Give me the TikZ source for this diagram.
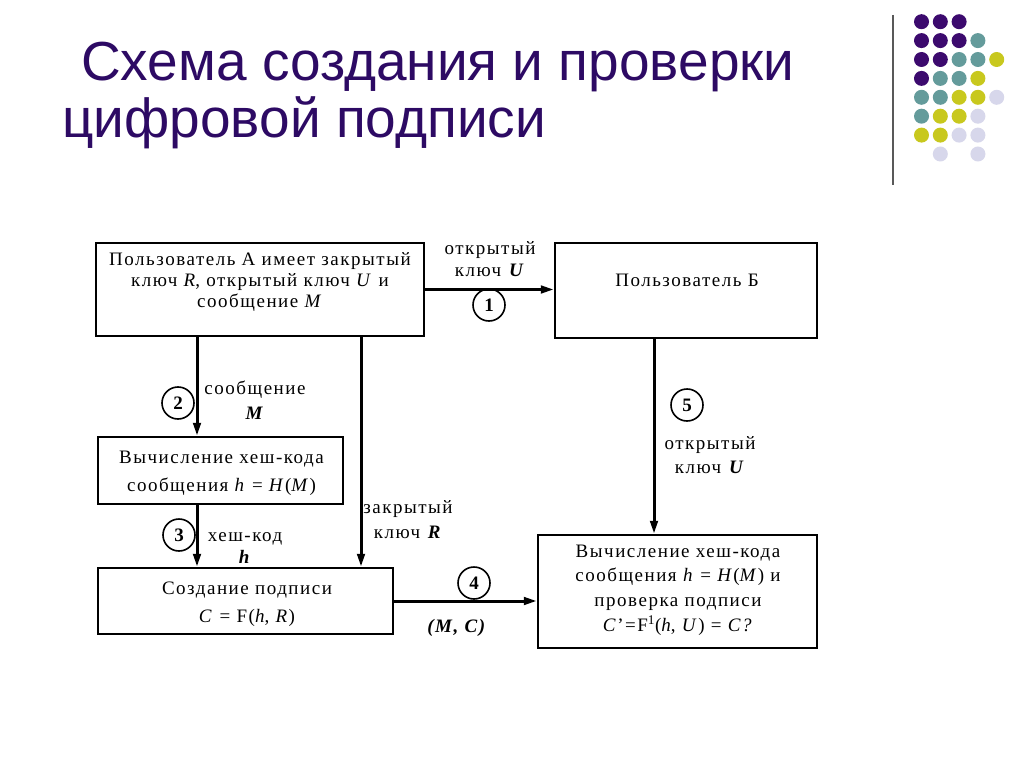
\documentclass[tikz,border=0pt]{standalone}
\usepackage{fontspec}
\setmainfont{Liberation Serif}
\newfontfamily\dfont{Liberation Serif}[LetterSpace=8]
\newfontfamily\tfont{Liberation Sans}
\usetikzlibrary{arrows.meta}
\definecolor{titlec}{RGB}{45,10,100}
\definecolor{dpurple}{RGB}{60,10,110}
\definecolor{dteal}{RGB}{100,155,155}
\definecolor{dyellow}{RGB}{200,200,30}
\definecolor{dlav}{RGB}{215,215,235}
\tikzset{
  box/.style={draw, line width=2.4pt, inner sep=0pt},
  btext/.style={align=center, inner sep=0pt, font=\dfont\fontsize{19}{21}\selectfont},
  lab/.style={align=center, inner sep=0pt, font=\dfont\fontsize{19}{22}\selectfont},
  num/.style={draw, circle, line width=1.6pt, minimum size=32pt, inner sep=0pt,
    font=\dfont\bfseries\fontsize{19}{21}\selectfont},
  arr/.style={line width=3pt, -{Triangle[length=13pt 0 0, width=7.5pt 0 0]}},
  dot/.style={circle, inner sep=0pt, minimum size=15pt},
  ttl/.style={anchor=base west, inner sep=0pt, text=titlec, font=\tfont\fontsize{55}{57}\selectfont},
}
\begin{document}
\begin{tikzpicture}[x=1pt,y=-1pt]
\useasboundingbox[fill=white] (0,0) rectangle (1024,767);
% title
\node[ttl] (t1) at (81,81) {Схема создания и проверки};
\node[ttl] (t2) at (62,138) {цифровой подписи};
% decoration
\draw[line width=2pt, black!65] (893,15) -- (893,185);
\foreach \c/\r/\col in {0/0/dpurple,1/0/dpurple,2/0/dpurple,
  0/1/dpurple,1/1/dpurple,2/1/dpurple,3/1/dteal,
  0/2/dpurple,1/2/dpurple,2/2/dteal,3/2/dteal,4/2/dyellow,
  0/3/dpurple,1/3/dteal,2/3/dteal,3/3/dyellow,
  0/4/dteal,1/4/dteal,2/4/dyellow,3/4/dyellow,4/4/dlav,
  0/5/dteal,1/5/dyellow,2/5/dyellow,3/5/dlav,
  0/6/dyellow,1/6/dyellow,2/6/dlav,3/6/dlav,
  1/7/dlav,3/7/dlav}
  \node[dot, fill=\col] (d\c\r) at ({921.5+18.8*\c},{21.7+18.9*\r}) {};
% boxes
\node[box, minimum width=328pt, minimum height=93pt] (A) at (260,289.5) {};
\node[box, minimum width=262pt, minimum height=95pt] (B) at (686,290.5) {};
\node[box, minimum width=245pt, minimum height=67pt] (H) at (220.5,470.5) {};
\node[box, minimum width=295pt, minimum height=66pt] (S) at (245.5,601) {};
\node[box, minimum width=279pt, minimum height=113pt] (V) at (677.5,591.5) {};
% box texts
\node[btext] (At) at (260,282)
  {Пользователь А имеет закрытый\\ключ \textit{R}, открытый ключ \textit{U} и\\сообщение \textit{M}};
\node[btext] (Bt) at (687,280) {Пользователь Б};
\node[btext, font=\dfont\fontsize{19}{28}\selectfont] (Ht) at (221.5,473)
  {Вычисление хеш-кода\\сообщения \textit{h} = \textit{H}(\textit{M})};
\node[btext, font=\dfont\fontsize{19}{28}\selectfont] (St) at (247,604)
  {Создание подписи\\\textit{C} = F(\textit{h}, \textit{R})};
\node[btext, font=\dfont\fontsize{19}{24.7}\selectfont] (Vt) at (678,590)
  {Вычисление хеш-кода\\сообщения \textit{h} = \textit{H}(\textit{M}) и\\проверка подписи\\\textit{C}’=F\textsuperscript{1}(\textit{h}, \textit{U}) = \textit{C?}};
% helper coordinates
\coordinate (c2) at (197,0);
\coordinate (cR) at (361,0);
\coordinate (c5) at (654,0);
% connectors
\draw[arr] (A.east) -- (A.east -| B.west);
\draw[arr] (c2 |- A.south) -- (c2 |- H.north);
\draw[arr] (c2 |- H.south) -- (c2 |- S.north);
\draw[arr] (cR |- A.south) -- (cR |- S.north);
\draw[arr] (S.east) -- (S.east -| V.west);
\draw[arr] (c5 |- B.south) -- (c5 |- V.north);
% labels
\node[lab] (l1) at (490,259) {открытый\\ключ \textbf{\textit{U}}};
\node[num] (n1) at (489,305) {1};
\node[lab, font=\dfont\fontsize{19}{25}\selectfont] (l2) at (255,400) {сообщение\\\textbf{\textit{M}}};
\node[num] (n2) at (178,403) {2};
\node[num] (n3) at (179,535) {3};
\node[lab] (l3) at (245,548) {хеш-код\\\textbf{\textit{h}}};
\node[lab, font=\dfont\fontsize{19}{25}\selectfont] (lR) at (408,520) {закрытый\\ключ \textbf{\textit{R}}};
\node[num] (n4) at (474,583) {4};
\node[lab] (l4) at (457,628) {\textbf{\textit{(M, C)}}};
\node[num] (n5) at (687,405) {5};
\node[lab, font=\dfont\fontsize{19}{24}\selectfont] (l5) at (710,455) {открытый\\ключ \textbf{\textit{U}}};
\end{tikzpicture}
\end{document}
